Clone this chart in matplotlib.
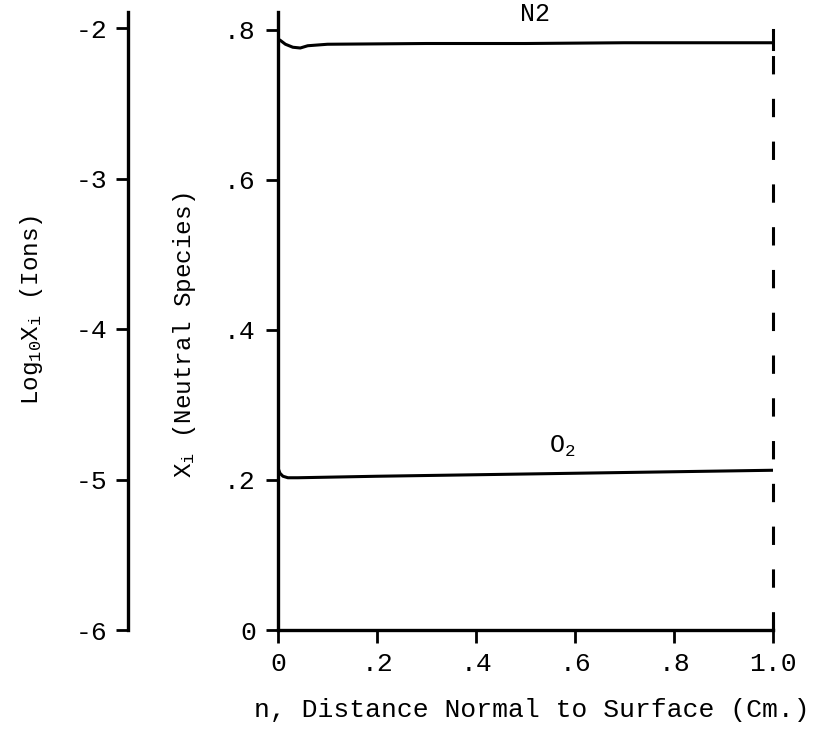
import matplotlib
matplotlib.use("Agg")
import matplotlib.pyplot as plt

plt.rcParams['font.family'] = ['Liberation Mono', 'DejaVu Sans Mono']
plt.rcParams['mathtext.fontset'] = 'custom'
plt.rcParams['mathtext.rm'] = 'Liberation Mono'
plt.rcParams['mathtext.it'] = 'Liberation Mono'
plt.rcParams['mathtext.bf'] = 'Liberation Mono'

# Data
n2_x = [0.0, 0.005, 0.015, 0.03, 0.045, 0.06, 0.1, 0.3, 0.5, 0.7, 1.0]
n2_y = [0.788, 0.786, 0.781, 0.777, 0.776, 0.779, 0.781, 0.782, 0.782, 0.783, 0.783]
o2_x = [0.0, 0.004, 0.01, 0.02, 0.04, 0.2, 0.4, 0.6, 0.8, 1.0]
o2_y = [0.216, 0.209, 0.205, 0.203, 0.203, 0.205, 0.207, 0.209, 0.211, 0.213]

x_ticks = [0, 0.2, 0.4, 0.6, 0.8, 1.0]
x_ticklabels = ["0", ".2", ".4", ".6", ".8", "1.0"]
y_ticks = [0, 0.2, 0.4, 0.6, 0.8]
y_ticklabels = ["0", ".2", ".4", ".6", ".8"]
log_ticks = [-6, -5, -4, -3, -2]
log_ticklabels = ["-6", "-5", "-4", "-3", "-2"]

W, H = 815, 729
fig = plt.figure(figsize=(W / 100, H / 100), dpi=100)

x0, x1 = 278, 773
ybot, ytop = 630, 12
ax = fig.add_axes([x0 / W, 1 - ybot / H, (x1 - x0) / W, (ybot - ytop) / H])
ax.set_xlim(0, 1.0)
ax.set_ylim(0, (ybot - ytop) / 750.0)

lw = 2.2
ax.plot(n2_x, n2_y, color='black', lw=lw, solid_capstyle='butt')
ax.plot(o2_x, o2_y, color='black', lw=lw, solid_capstyle='butt')
ax.plot([1.0, 1.0], [0, 0.80], color='black', lw=2.2, dashes=(6, 8), clip_on=False)
ax.plot([1.0, 1.0], [0.775, 0.80], color='black', lw=2.2, clip_on=False)
ax.plot([1.0, 1.0], [0.0, 0.012], color='black', lw=2.2, clip_on=False)

for s in ['top', 'right']:
    ax.spines[s].set_visible(False)
for s in ['left', 'bottom']:
    ax.spines[s].set_linewidth(2.4)
ax.set_xticks(x_ticks)
ax.set_xticklabels(x_ticklabels)
ax.set_yticks(y_ticks)
ax.set_yticklabels(y_ticklabels)
ax.tick_params(direction='out', length=9, width=2.0, labelsize=19, pad=7)

ax.text(0.52, 0.805, "N2", fontsize=18, ha='center', va='bottom')
ax.text(0.575, 0.228, "O$_2$", fontsize=18, ha='center', va='bottom')

fig.text(532 / W, 1 - 710 / H, "n, Distance Normal to Surface (Cm.)",
         fontsize=19, ha='center', va='center')
fig.text(185 / W, 1 - 335 / H, "X$_i$ (Neutral Species)", fontsize=17.5,
         rotation=90, ha='center', va='center')
fig.text(32 / W, 1 - 310 / H, "Log$_{10}$X$_i$ (Ions)", fontsize=17.5,
         rotation=90, ha='center', va='center')

# Left log axis
lx = 128
ax2 = fig.add_axes([lx / W, 1 - ybot / H, 0.0001, (ybot - ytop) / H])
ax2.set_ylim(-6, -6 + (ybot - ytop) / 150.5)
ax2.set_xlim(0, 1)
for s in ['top', 'right', 'bottom']:
    ax2.spines[s].set_visible(False)
ax2.spines['left'].set_linewidth(2.4)
ax2.set_xticks([])
ax2.set_yticks(log_ticks)
ax2.set_yticklabels(log_ticklabels)
ax2.tick_params(direction='out', length=9, width=2.0, labelsize=19, pad=6)
ax2.patch.set_visible(False)

fig.savefig("out.png", dpi=100)
